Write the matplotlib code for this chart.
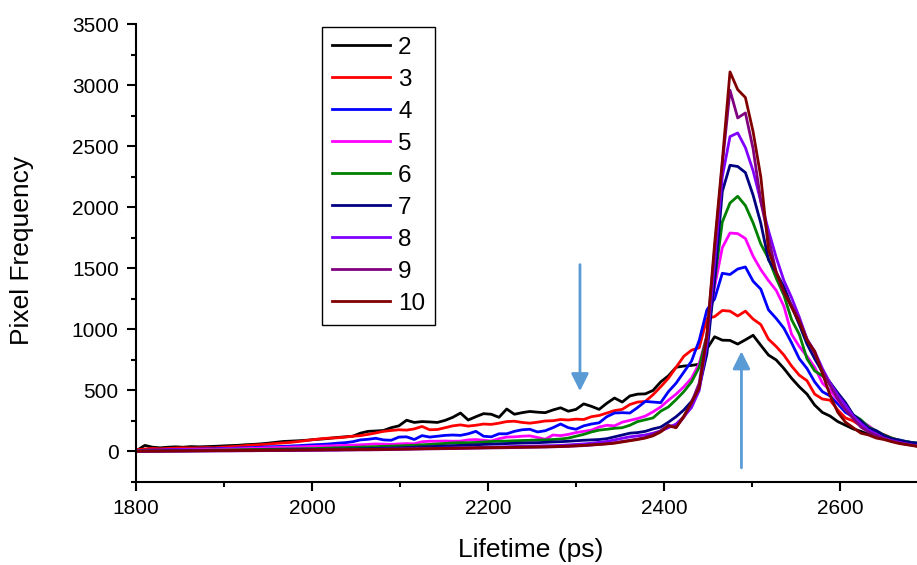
import numpy as np
import matplotlib.pyplot as plt
from matplotlib.ticker import MultipleLocator

plt.rcParams['font.family'] = ['Liberation Sans', 'DejaVu Sans']

# lifetime bins (ps), ~8.75 ps wide
lifetime = 1801.25 + 8.75 * np.arange(103)

labels = ['2', '3', '4', '5', '6', '7', '8', '9', '10']
colors = ['#000000', '#ff0000', '#0000ff', '#ff00ff', '#008000',
          '#000080', '#8000ff', '#800080', '#800000']

black = [10, 50, 35, 30, 35, 38, 35, 40, 38, 40,
         42, 45, 48, 50, 55, 58, 62, 68, 75, 82,
         85, 88, 92, 98, 102, 108, 115, 120, 125, 150,
         165, 168, 172, 195, 210, 256, 238, 245, 242, 238,
         255, 280, 315, 258, 285, 310, 305, 280, 348, 305,
         318, 328, 322, 318, 340, 358, 330, 345, 390, 370,
         345, 395, 438, 405, 455, 470, 472, 500, 570, 620,
         690, 700, 705, 715, 840, 940, 912, 910, 880, 915,
         952, 870, 790, 750, 680, 600, 530, 470, 380, 320,
         290, 245, 215, 185, 165, 140, 120, 105, 90, 78,
         68, 62, 58]
red = [15, 20, 25, 22, 25, 28, 30, 28, 30, 32,
       30, 35, 38, 42, 48, 52, 55, 60, 66, 70,
       75, 82, 90, 98, 105, 110, 112, 118, 125, 130,
       140, 152, 165, 172, 178, 175, 185, 205, 178, 180,
       195, 210, 218, 208, 215, 225, 222, 232, 245, 248,
       238, 232, 240, 250, 252, 262, 258, 265, 262, 285,
       295, 315, 335, 345, 385, 405, 410, 465, 530, 600,
       690, 780, 830, 850, 1090, 1105, 1155, 1150, 1110, 1150,
       1085, 1040, 920, 860, 790, 700, 625, 580, 470, 430,
       420, 340, 275, 250, 210, 165, 150, 138, 110, 90,
       70, 58, 55]
blue = [5, 10, 12, 12, 15, 15, 18, 18, 20, 22,
        22, 25, 25, 28, 30, 32, 35, 38, 40, 42,
        45, 48, 52, 55, 58, 62, 68, 72, 80, 95,
        100, 108, 95, 92, 118, 120, 98, 130, 118, 125,
        132, 135, 132, 145, 165, 125, 120, 145, 145, 165,
        178, 182, 160, 170, 195, 225, 195, 182, 210, 225,
        235, 285, 315, 318, 315, 360, 410, 405, 400, 490,
        560, 650, 740, 910, 1160, 1250, 1460, 1450, 1495, 1512,
        1395, 1330, 1160, 1090, 1010, 890, 760, 680, 570, 490,
        455, 390, 320, 285, 245, 195, 165, 125, 105, 95,
        80, 70, 65]
magenta = [5, 8, 10, 10, 12, 12, 14, 15, 16, 18,
           18, 20, 22, 22, 24, 26, 28, 30, 32, 34,
           36, 38, 40, 42, 44, 46, 48, 50, 52, 55,
           58, 62, 60, 58, 62, 65, 63, 80, 84, 84,
           86, 84, 85, 95, 98, 92, 86, 105, 118, 120,
           125, 128, 115, 100, 135, 130, 140, 155, 165, 175,
           200, 215, 210, 240, 255, 270, 290, 325, 365, 420,
           470, 530, 600, 720, 950, 1350, 1670, 1790, 1785, 1745,
           1600, 1490, 1400, 1320, 1190, 960, 860, 780, 690, 560,
           500, 420, 345, 289, 250, 210, 165, 135, 105, 85,
           70, 60, 52]
green = [3, 5, 6, 6, 8, 8, 9, 10, 10, 11,
         12, 12, 13, 14, 15, 16, 17, 18, 19, 20,
         21, 22, 23, 24, 26, 28, 30, 32, 34, 36,
         38, 40, 42, 44, 46, 48, 50, 55, 58, 62,
         66, 70, 72, 72, 74, 78, 82, 84, 85, 88,
         90, 92, 94, 95, 98, 102, 110, 125, 140, 160,
         175, 182, 190, 195, 215, 245, 260, 275, 330, 365,
         425, 490, 570, 690, 950, 1400, 1880, 2036, 2091, 2015,
         1873, 1700, 1580, 1420, 1280, 1080, 960, 760, 660, 620,
         560, 470, 380, 300, 260, 200, 170, 135, 110, 90,
         80, 70, 65]
navy = [2, 3, 4, 4, 5, 5, 6, 6, 7, 7,
        8, 8, 9, 9, 10, 10, 11, 12, 12, 13,
        14, 15, 15, 16, 17, 18, 19, 20, 21, 22,
        23, 25, 27, 28, 30, 32, 35, 38, 40, 43,
        46, 48, 50, 52, 55, 58, 60, 62, 65, 67,
        69, 71, 72, 75, 78, 80, 84, 88, 92, 95,
        98, 105, 120, 135, 150, 155, 165, 185, 200, 240,
        285, 340, 410, 520, 800, 1400, 2130, 2345, 2335, 2285,
        2100, 1870, 1570, 1465, 1350, 1190, 1040, 880, 760, 650,
        565, 480, 400, 300, 250, 190, 170, 130, 105, 90,
        78, 70, 65]
violet = [2, 2, 3, 3, 3, 4, 4, 4, 5, 5,
          5, 6, 6, 6, 7, 7, 8, 8, 9, 9,
          10, 10, 11, 11, 12, 12, 13, 14, 15, 16,
          17, 18, 19, 20, 21, 22, 23, 24, 25, 26,
          28, 29, 30, 31, 33, 34, 36, 37, 39, 41,
          42, 44, 45, 47, 48, 50, 54, 58, 62, 68,
          75, 82, 95, 108, 120, 128, 135, 150, 168, 195,
          225, 285, 360, 500, 880, 1550, 2250, 2580, 2610, 2490,
          2300, 2050, 1810, 1590, 1400, 1260, 1100, 920, 820, 680,
          560, 460, 380, 290, 230, 175, 140, 110, 90, 75,
          62, 50, 42]
purple = [1, 2, 2, 2, 3, 3, 3, 4, 4, 4,
          5, 5, 5, 6, 6, 6, 7, 7, 8, 8,
          8, 9, 9, 10, 10, 11, 11, 12, 12, 13,
          13, 14, 15, 16, 17, 18, 19, 20, 21, 22,
          23, 24, 25, 26, 27, 28, 29, 30, 31, 32,
          33, 34, 35, 36, 38, 40, 42, 45, 48, 52,
          58, 64, 72, 82, 92, 102, 115, 140, 170, 215,
          200, 280, 400, 560, 950, 1650, 2350, 2960, 2733, 2774,
          2480, 2050, 1750, 1470, 1300, 1200, 1080, 920, 800, 660,
          540, 430, 340, 270, 200, 160, 130, 105, 85, 70,
          58, 48, 40]
brown = [2, 3, 3, 4, 4, 5, 5, 6, 6, 7,
         7, 8, 8, 9, 9, 10, 10, 11, 11, 12,
         12, 13, 13, 14, 14, 15, 15, 16, 16, 17,
         17, 18, 18, 19, 20, 21, 22, 23, 24, 25,
         26, 27, 28, 29, 30, 31, 32, 33, 34, 35,
         36, 37, 38, 39, 40, 42, 44, 47, 50, 55,
         58, 62, 68, 78, 88, 98, 110, 128, 160, 210,
         195, 290, 400, 520, 950, 1700, 2380, 3110, 2965, 2900,
         2620, 2250, 1650, 1470, 1310, 1180, 1060, 910, 820, 640,
         460, 320, 240, 195, 150, 135, 110, 98, 80, 65,
         55, 45, 30]

series = [black, red, blue, magenta, green, navy, violet, purple, brown]

# arrows: (x, y_start, y_end)
arrow_down = (2304.5, 1531, 494)
arrow_up = (2488, -134, 821)

fig = plt.figure(figsize=(9.17, 5.65), dpi=100)
ax = fig.add_axes([136 / 917, 83 / 565, 781 / 917, 457.7 / 565])

for vals, lab, col in zip(series, labels, colors):
    ax.plot(lifetime, vals, color=col, lw=2.0, label=lab)

for x, y0, y1 in [arrow_down, arrow_up]:
    ax.annotate('', xy=(x, y1), xytext=(x, y0),
                arrowprops=dict(arrowstyle='-|>,head_length=0.7,head_width=0.35',
                                mutation_scale=15, color='#5B9BD5', lw=2,
                                shrinkA=0, shrinkB=0))

ax.set_xlim(1800, 2687.5)
ax.set_ylim(-250, 3500)
ax.spines['top'].set_visible(False)
ax.spines['right'].set_visible(False)
for s in ['left', 'bottom']:
    ax.spines[s].set_linewidth(1.5)

ax.xaxis.set_major_locator(MultipleLocator(200))
ax.xaxis.set_minor_locator(MultipleLocator(100))
ax.yaxis.set_major_locator(MultipleLocator(500))
ax.yaxis.set_minor_locator(MultipleLocator(250))
ax.tick_params(which='major', direction='out', length=6.5, width=1.5,
               labelsize=15, pad=6)
ax.tick_params(which='minor', direction='out', length=3.5, width=1.5)

ax.set_xlabel('Lifetime (ps)', fontsize=19)
ax.set_ylabel('Pixel Frequency', fontsize=19)
ax.xaxis.set_label_coords(0.506, -0.1486)
ax.yaxis.set_label_coords(-0.146, 0.507)
ax.xaxis.label.set_va('center')
ax.yaxis.label.set_va('center')

leg = ax.legend(loc='upper left', bbox_to_anchor=(321.7 / 917, 1 - 26.7 / 565),
                bbox_transform=fig.transFigure, fontsize=17.5, frameon=True,
                fancybox=False, edgecolor='black', framealpha=1,
                handlelength=2.4, handletextpad=0.32, labelspacing=0.41,
                borderpad=0.42, borderaxespad=0)
leg.get_frame().set_linewidth(1.0)

fig.savefig('out.png', dpi=100)
